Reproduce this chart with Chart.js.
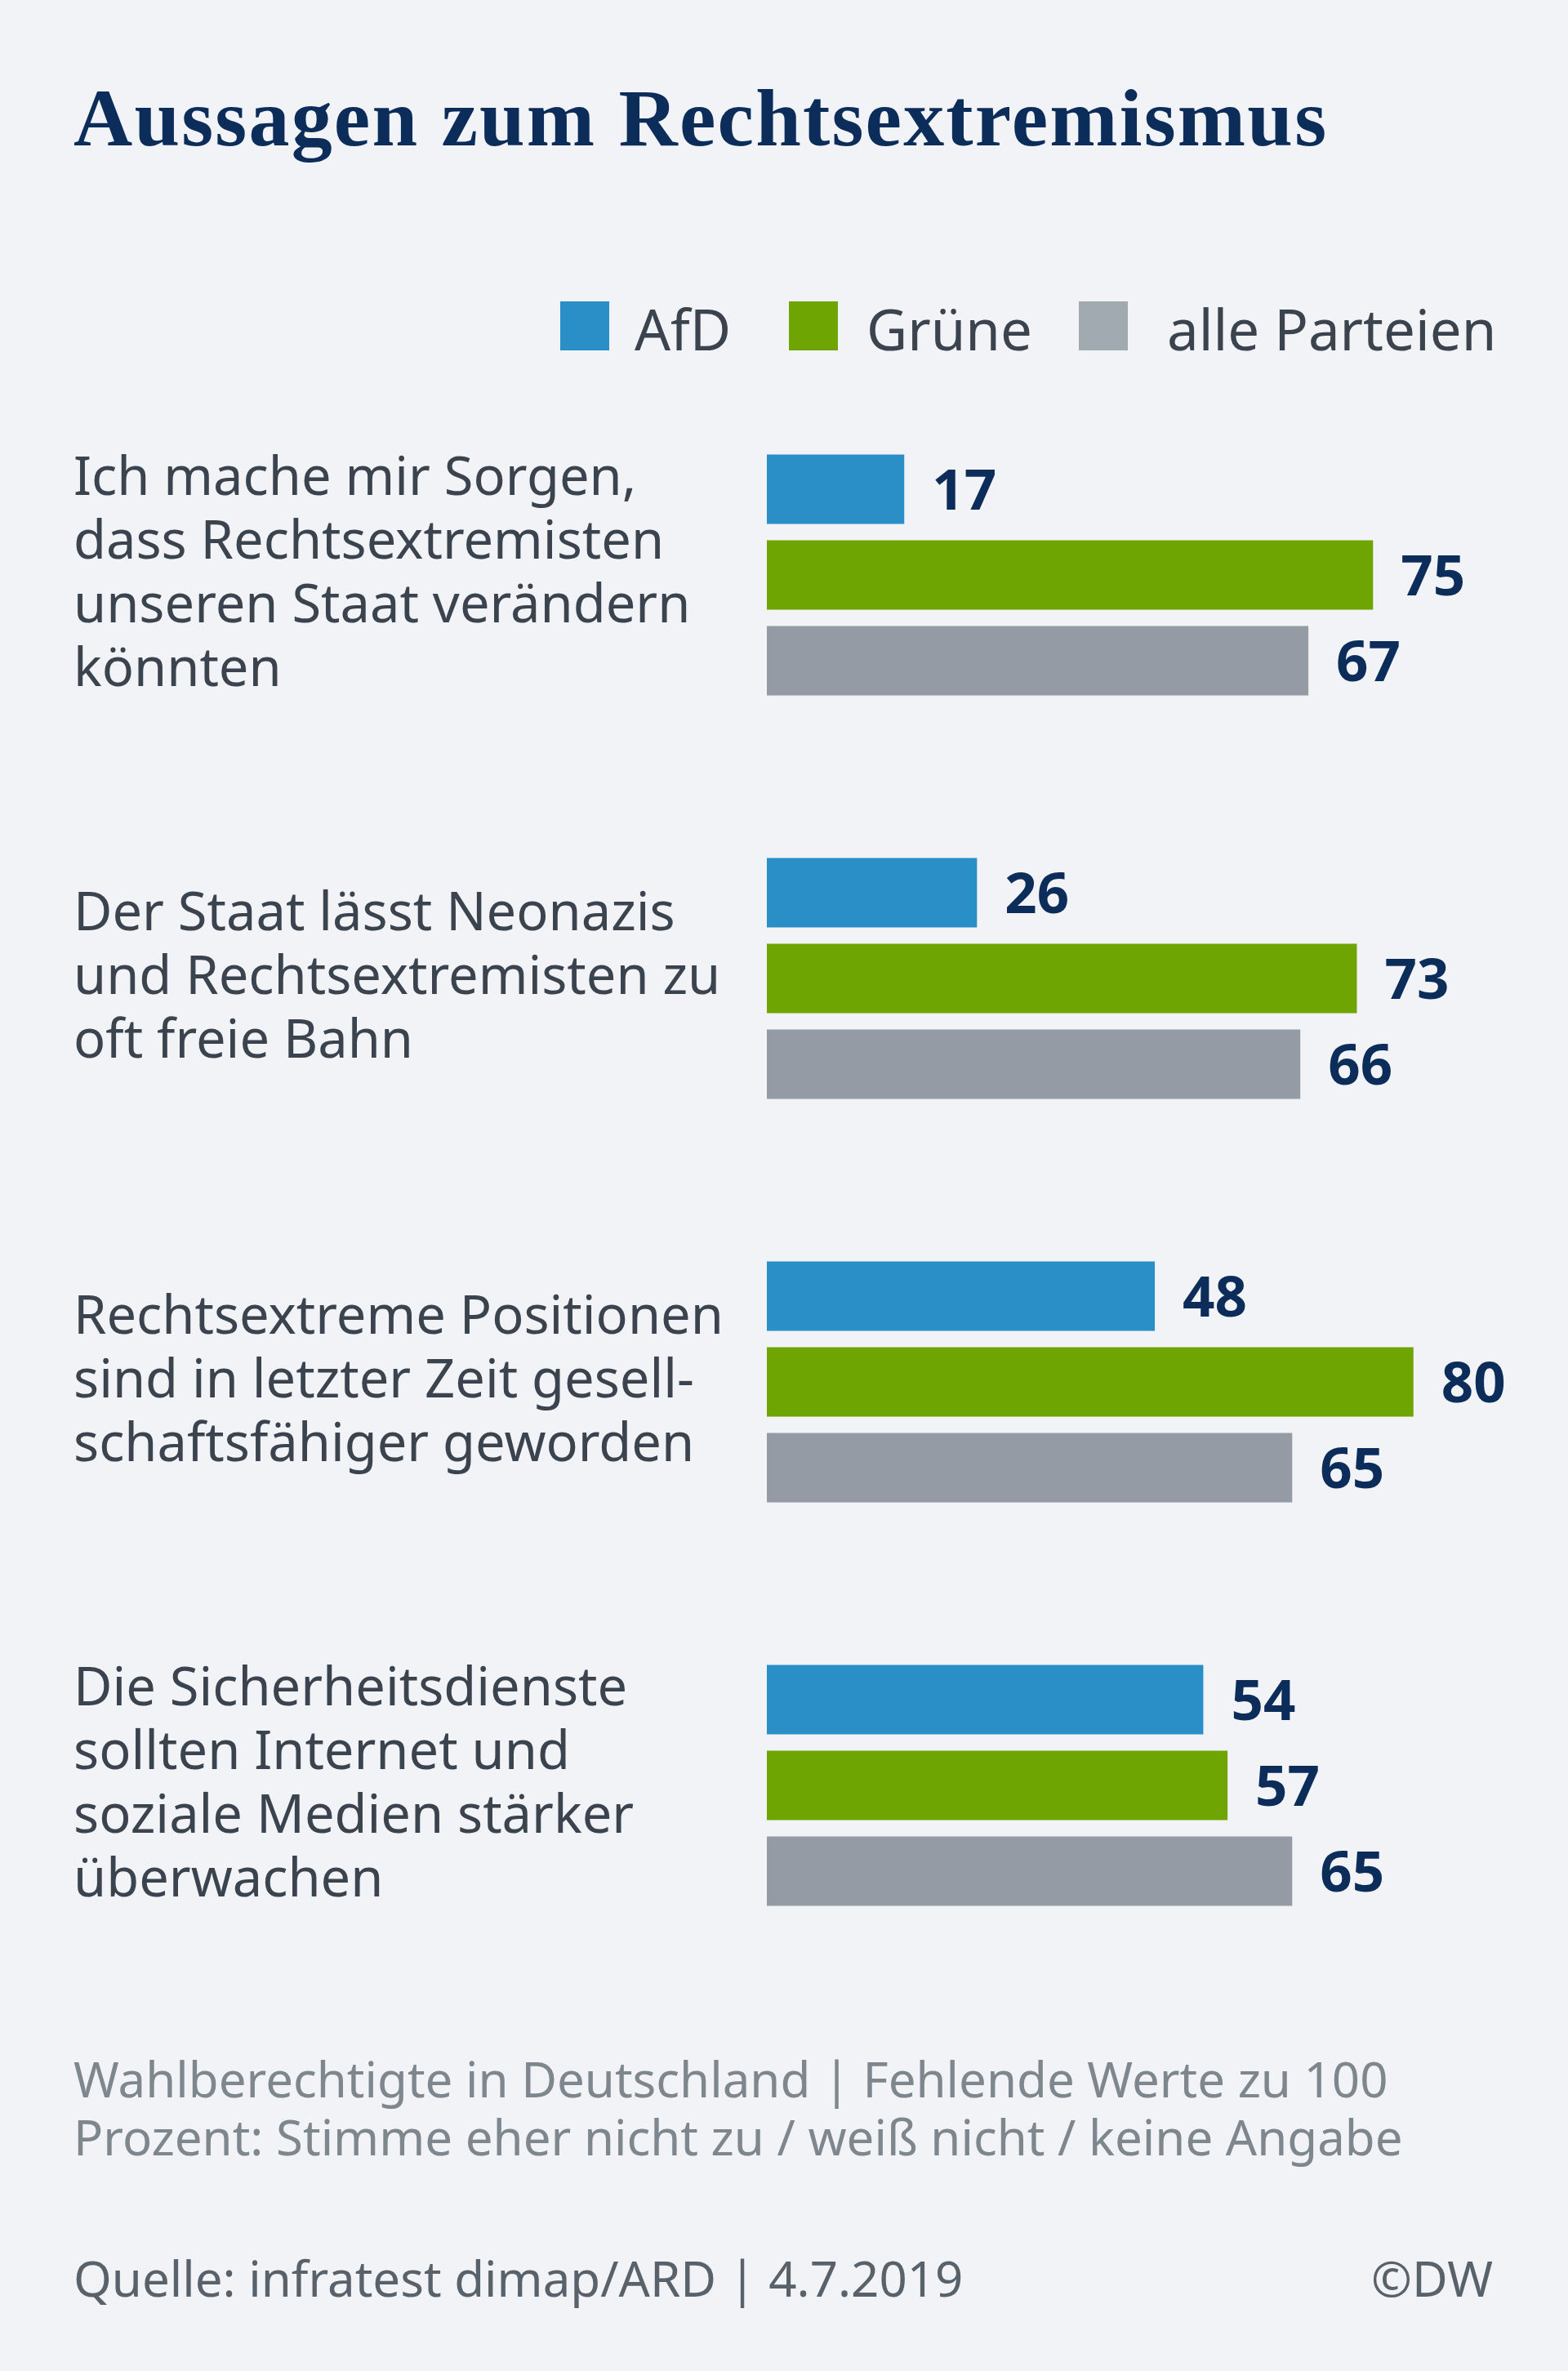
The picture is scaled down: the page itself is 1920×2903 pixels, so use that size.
<!DOCTYPE html>
<html lang="de">
<head>
<meta charset="utf-8">
<title>Aussagen zum Rechtsextremismus</title>
<script src="https://cdn.jsdelivr.net/npm/chart.js@4/dist/chart.umd.min.js"></script>
<style>
  html, body { margin: 0; padding: 0; }
  body {
    width: 1920px;
    height: 2903px;
    background: #f1f3f6;
    position: relative;
    overflow: hidden;
    font-family: "Noto Sans", "Open Sans", sans-serif;
  }
  .title {
    position: absolute;
    left: 90px;
    top: 95px;
    font-family: "Liberation Serif", serif;
    font-weight: bold;
    font-size: 100px;
    line-height: 1;
    letter-spacing: 2.2px;
    color: #0c2c5a;
    white-space: nowrap;
  }
  .legend {
    position: absolute;
    top: 368px;
    left: 686px;
    height: 70px;
    font-size: 69px;
    line-height: 1;
    color: #3b444e;
  }
  .legend .sw {
    position: absolute;
    top: 1px;
    width: 60px;
    height: 60px;
  }
  .legend .lbl {
    position: absolute;
    top: 0;
    white-space: nowrap;
  }
  .chart-wrap {
    position: absolute;
    left: 0;
    top: 440px;
    width: 1920px;
    height: 2020px;
  }
  .note {
    position: absolute;
    left: 90px;
    top: 2510px;
    font-size: 60px;
    line-height: 71px;
    color: #7e868e;
    white-space: nowrap;
  }
  .source {
    position: absolute;
    left: 90px;
    top: 2759px;
    font-size: 60px;
    line-height: 1;
    color: #59626b;
    white-space: nowrap;
  }
  .copy {
    position: absolute;
    right: 92px;
    top: 2759px;
    font-size: 60px;
    line-height: 1;
    color: #59626b;
  }
</style>
</head>
<body>
<div class="title">Aussagen zum Rechtsextremismus</div>

<div class="legend" id="legend"></div>

<div class="chart-wrap"><canvas id="chart"></canvas></div>

<div class="note">Wahlberechtigte in Deutschland | Fehlende Werte zu 100<br>Prozent: Stimme eher nicht zu / weiß nicht / keine Angabe</div>
<div class="source">Quelle: infratest dimap/ARD | 4.7.2019</div>
<div class="copy">©DW</div>

<script>
const categories = [
  ["Ich mache mir Sorgen,", "dass Rechtsextremisten", "unseren Staat verändern", "könnten"],
  ["Der Staat lässt Neonazis", "und Rechtsextremisten zu", "oft freie Bahn"],
  ["Rechtsextreme Positionen", "sind in letzter Zeit gesell-", "schaftsfähiger geworden"],
  ["Die Sicherheitsdienste", "sollten Internet und", "soziale Medien stärker", "überwachen"]
]

const seriesNames = ["AfD", "Grüne", "alle Parteien"]
const afdValues = [17, 26, 48, 54]
const grueneValues = [75, 73, 80, 57]
const alleValues = [67, 66, 65, 65]

const barColors = ["#2b8fc7", "#6fa502", "#949ba4"]
const legendColors = ["#2b8fc7", "#6fa502", "#a1a9b1"]

// legend in html, positions
const legendSwatchX = [0, 280, 635]
const legendTextX = [91, 375, 743]
const legendEl = document.getElementById("legend")
seriesNames.forEach((name, i) => {
  const sw = document.createElement("div")
  sw.className = "sw"
  sw.style.left = legendSwatchX[i] + "px"
  sw.style.background = legendColors[i]
  legendEl.appendChild(sw)
  const lbl = document.createElement("div")
  lbl.className = "lbl"
  lbl.style.left = legendTextX[i] + "px"
  lbl.textContent = name
  legendEl.appendChild(lbl)
})

// value labels to the right of every bar
const valueLabels = {
  id: "valueLabels",
  afterDatasetsDraw(chart) {
    const ctx = chart.ctx
    ctx.save()
    ctx.font = 'bold 69px "Noto Sans", "Open Sans", sans-serif'
    ctx.fillStyle = "#0c2c5a"
    ctx.textAlign = "left"
    ctx.textBaseline = "alphabetic"
    chart.data.datasets.forEach((ds, i) => {
      chart.getDatasetMeta(i).data.forEach((bar, j) => {
        ctx.fillText(String(ds.data[j]), bar.x + 34, bar.y + 25)
      })
    })
    ctx.restore()
  }
}

new Chart(document.getElementById("chart"), {
  type: "bar",
  data: {
    labels: categories,
    datasets: [
      { label: seriesNames[0], data: afdValues, backgroundColor: barColors[0] },
      { label: seriesNames[1], data: grueneValues, backgroundColor: barColors[1] },
      { label: seriesNames[2], data: alleValues, backgroundColor: barColors[2] }
    ]
  },
  options: {
    indexAxis: "y",
    responsive: true,
    maintainAspectRatio: false,
    devicePixelRatio: 1,
    animation: false,
    layout: {
      padding: { left: 90, right: 21, top: 17, bottom: 27 }
    },
    datasets: {
      bar: {
        categoryPercentage: 0.638,
        barPercentage: 0.81,
        borderWidth: 0
      }
    },
    scales: {
      x: {
        display: false,
        min: 0,
        max: 97
      },
      y: {
        grid: { display: false, drawTicks: false },
        border: { display: false },
        afterFit(scale) {
          // fixed label column, and no extra room for the tall multi-line labels
          scale.width = 849
          scale.paddingTop = 0
          scale.paddingBottom = 0
        },
        ticks: {
          autoSkip: false,
          crossAlign: "far",
          color: "#3b444e",
          font: { family: '"Noto Sans", "Open Sans", sans-serif', size: 65, lineHeight: 1.2 }
        }
      }
    },
    plugins: {
      legend: { display: false },
      tooltip: { enabled: false }
    }
  },
  plugins: [valueLabels]
})
</script>
</body>
</html>
